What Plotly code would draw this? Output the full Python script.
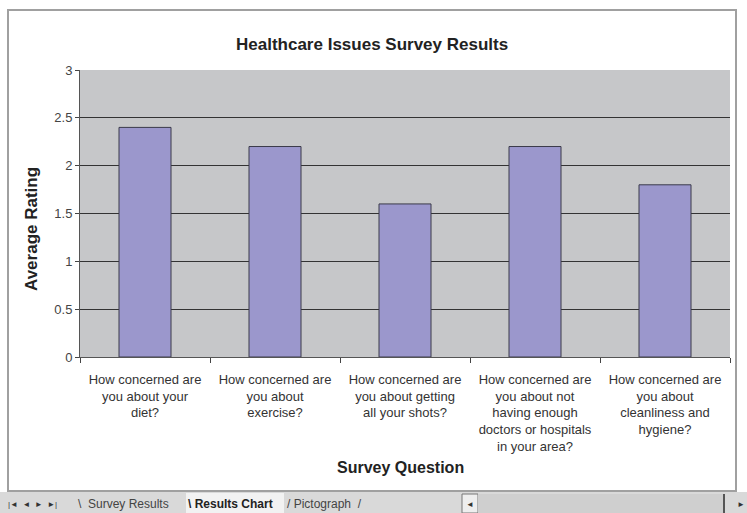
import plotly.graph_objects as go

categories = [
    "How concerned are<br>you about your<br>diet?",
    "How concerned are<br>you about<br>exercise?",
    "How concerned are<br>you about getting<br>all your shots?",
    "How concerned are<br>you about not<br>having enough<br>doctors or hospitals<br>in your area?",
    "How concerned are<br>you about<br>cleanliness and<br>hygiene?",
]
ratings = [2.4, 2.2, 1.6, 2.2, 1.8]
y_ticks = [0, 0.5, 1, 1.5, 2, 2.5, 3]
y_tick_text = ["0", "0.5", "1", "1.5", "2", "2.5", "3"]

W, H = 747, 513
L, R, T, B = 80, 730, 70, 357

def px(x):
    return (x - L) / (R - L)

def py(y):
    return (B - y) / (B - T)

FONT = "Liberation Sans, Arial, sans-serif"

fig = go.Figure(go.Bar(
    x=categories, y=ratings,
    marker=dict(color="#9b97cc", line=dict(color="#3a3a4a", width=1)),
))

shapes = [
    # outer chart frame
    dict(type="rect", xref="paper", yref="paper", x0=px(8), x1=px(736), y0=py(491), y1=py(10),
         line=dict(color="#a0a0a0", width=2), fillcolor="rgba(0,0,0,0)", layer="below"),
    # sheet tab bar
    dict(type="rect", xref="paper", yref="paper", x0=px(0), x1=px(747), y0=py(513), y1=py(492),
         line=dict(width=0), fillcolor="#d9d9d9", layer="above"),
    # active tab background
    dict(type="rect", xref="paper", yref="paper", x0=px(186), x1=px(284), y0=py(513), y1=py(493),
         line=dict(width=0), fillcolor="#f2f2f2", layer="above"),
    # scrollbar region
    dict(type="rect", xref="paper", yref="paper", x0=px(462), x1=px(478), y0=py(513), y1=py(494),
         line=dict(color="#777", width=1), fillcolor="#eeeeee", layer="above"),
    dict(type="rect", xref="paper", yref="paper", x0=px(478), x1=px(724), y0=py(513), y1=py(494),
         line=dict(width=0), fillcolor="#cfcfcf", layer="above"),
    dict(type="line", xref="paper", yref="paper", x0=px(724), x1=px(724), y0=py(513), y1=py(494),
         line=dict(color="#555", width=2), layer="above"),
]

annotations = [
    dict(text="<b>Healthcare Issues Survey Results</b>", x=px(372), y=py(44), xref="paper", yref="paper",
         showarrow=False, font=dict(family=FONT, size=17, color="#222"), xanchor="center", yanchor="middle"),
    dict(text="<b>Average Rating</b>", x=px(31), y=py(229), xref="paper", yref="paper", textangle=-90,
         showarrow=False, font=dict(family=FONT, size=17, color="#222"), xanchor="center", yanchor="middle"),
    dict(text="<b>Survey Question</b>", x=px(400), y=py(467), xref="paper", yref="paper",
         showarrow=False, font=dict(family=FONT, size=16, color="#222"), xanchor="center", yanchor="middle"),
    dict(text="|◄  ◄  ►  ►|", x=px(6), y=py(504), xref="paper", yref="paper", xanchor="left", yanchor="middle",
         showarrow=False, font=dict(family=FONT, size=8, color="#333")),
    dict(text="\\  Survey Results", x=px(76), y=py(504), xref="paper", yref="paper", xanchor="left", yanchor="middle",
         showarrow=False, font=dict(family=FONT, size=12, color="#444")),
    dict(text="<b>\\ Results Chart</b>", x=px(186), y=py(504), xref="paper", yref="paper", xanchor="left", yanchor="middle",
         showarrow=False, font=dict(family=FONT, size=12, color="#222")),
    dict(text="/ Pictograph  /", x=px(285), y=py(504), xref="paper", yref="paper", xanchor="left", yanchor="middle",
         showarrow=False, font=dict(family=FONT, size=12, color="#444")),
    dict(text="◄", x=px(470), y=py(504), xref="paper", yref="paper", xanchor="center", yanchor="middle",
         showarrow=False, font=dict(family=FONT, size=8, color="#333")),
    dict(text="►", x=px(741), y=py(504), xref="paper", yref="paper", xanchor="center", yanchor="middle",
         showarrow=False, font=dict(family=FONT, size=8, color="#333")),
]

fig.update_layout(
    width=W, height=H,
    margin=dict(l=L, r=W - R, t=T, b=H - B, pad=0),
    paper_bgcolor="white",
    plot_bgcolor="#c6c7c9",
    bargap=0.6,
    showlegend=False,
    font=dict(family=FONT, size=12, color="#333"),
    shapes=shapes,
    annotations=annotations,
    xaxis=dict(
        type="category",
        tickson="boundaries",
        ticks="outside", ticklen=5, tickcolor="#444", tickwidth=1,
        showline=True, linecolor="#555", linewidth=1,
        showgrid=False,
        tickfont=dict(family=FONT, size=13, color="#333"),
        ticklabelstandoff=10,
        mirror=False,
    ),
    yaxis=dict(
        range=[0, 3],
        tickvals=y_ticks, ticktext=y_tick_text,
        ticks="outside", ticklen=4, tickcolor="#444",
        showline=True, linecolor="#555", linewidth=1,
        showgrid=True, gridcolor="#333", gridwidth=1,
        zeroline=False,
        tickfont=dict(family=FONT, size=13, color="#444"),
    ),
)

fig.write_html("out.html")
